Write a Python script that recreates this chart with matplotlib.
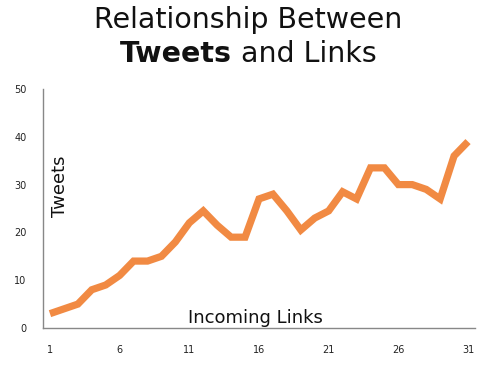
import numpy as np
import matplotlib.pyplot as plt

links = np.arange(1, 32)
tweets = [3, 4, 5, 8, 9, 11, 14, 14, 15, 18, 22, 24.5, 21.5, 19, 19,
          27, 28, 24.5, 20.5, 23, 24.5, 28.5, 27, 33.5, 33.5, 30, 30, 29, 27, 36, 39]
xticks = [1, 6, 11, 16, 21, 26, 31]
yticks = [0, 10, 20, 30, 40, 50]

fig = plt.figure(figsize=(4.97, 3.71), dpi=100)
ax = fig.add_axes([43/497, 43/371, 432/497, 239/371])
ax.plot(links, tweets, color='#F18A43', lw=5.2, solid_joinstyle='miter', solid_capstyle='butt')
ax.set_xlim(0.5, 31.5)
ax.set_ylim(0, 50)
ax.set_xticks(xticks)
ax.set_yticks(yticks)
ax.tick_params(length=0, labelsize=7, colors='#222222')
ax.tick_params(axis='x', pad=12)
ax.tick_params(axis='y', pad=12)
for s in ['top', 'right']:
    ax.spines[s].set_visible(False)
for s in ['left', 'bottom']:
    ax.spines[s].set_color('#888888')
    ax.spines[s].set_linewidth(1)

ax.text(0.039, 0.594, 'Tweets', rotation=90, transform=ax.transAxes,
        ha='center', va='center', fontsize=13, color='#111111')
ax.text(0.492, 0.021, 'Incoming Links', transform=ax.transAxes,
        ha='center', va='baseline', fontsize=13, color='#111111')

# title, second line mixes bold and normal
fig.text(0.5, 1 - 28/371, 'Relationship Between', ha='center', va='baseline',
         fontsize=20.5, color='#111111')
r = fig.canvas.get_renderer()
t1 = fig.text(0, 1 - 62/371, 'Tweets', ha='left', va='baseline',
              fontsize=20.5, fontweight='bold', color='#111111')
t2 = fig.text(0, 1 - 62/371, ' and Links', ha='left', va='baseline',
              fontsize=20.5, color='#111111')
w1 = t1.get_window_extent(r).width / fig.bbox.width
w2 = t2.get_window_extent(r).width / fig.bbox.width
x0 = 0.5 - (w1 + w2) / 2
t1.set_x(x0)
t2.set_x(x0 + w1)

fig.savefig('out.png', dpi=100)
